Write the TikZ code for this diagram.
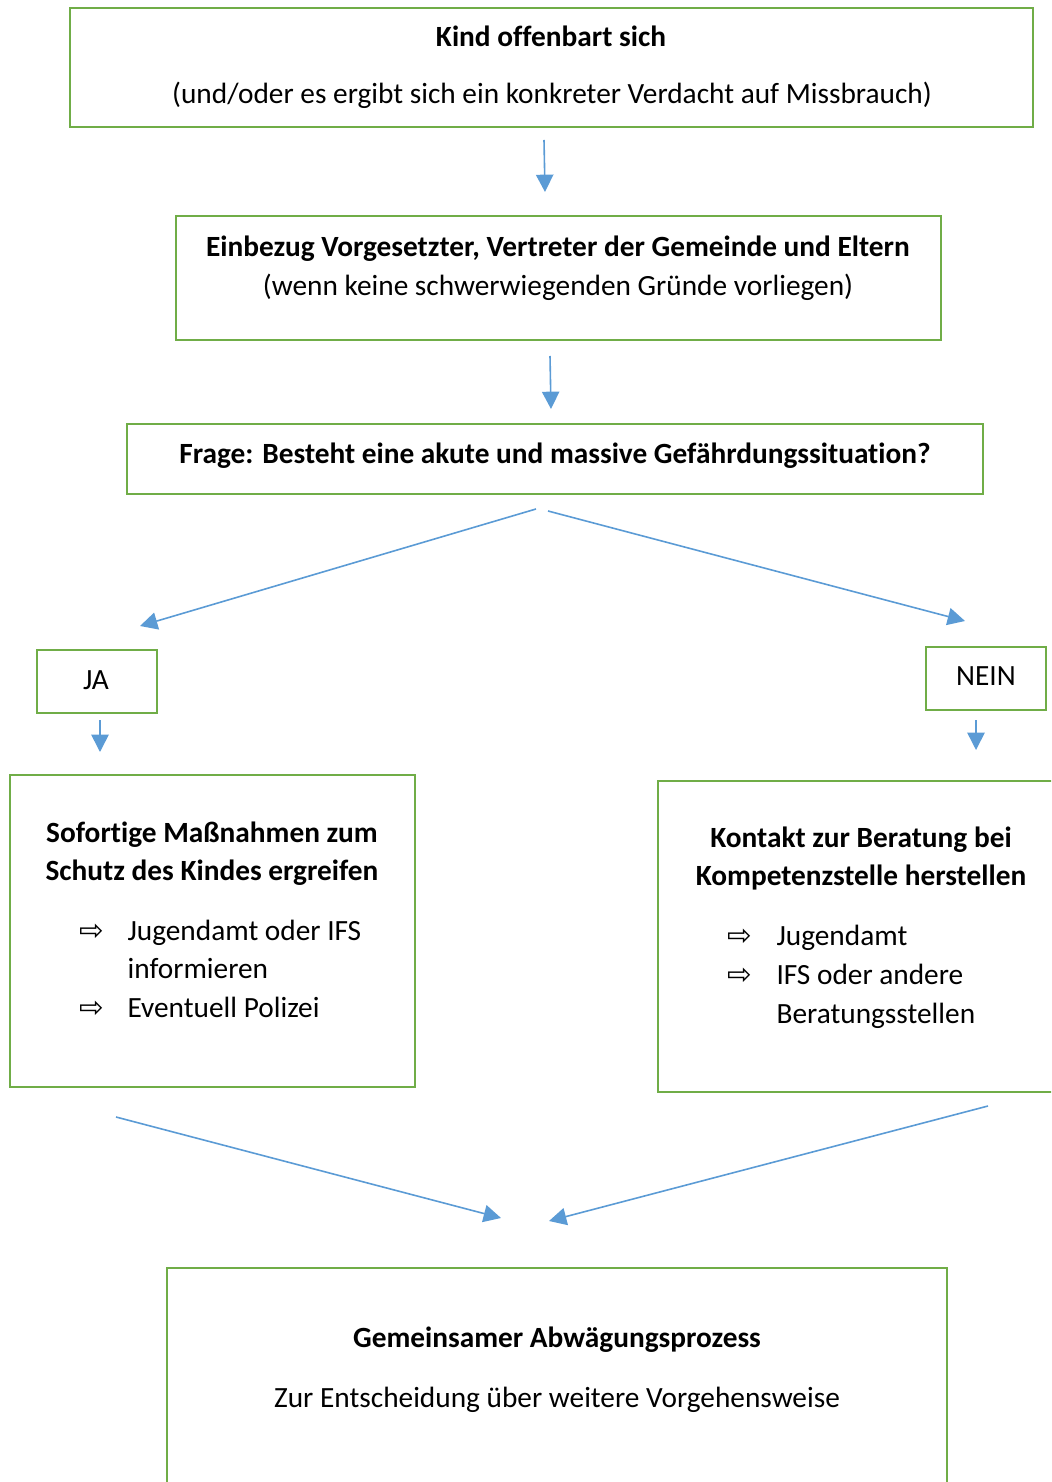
\documentclass[tikz,border=0pt]{standalone}
\usepackage{fontspec}
\setmainfont{Carlito}[RawFeature={-liga;-clig;-calt;-dlig}]
\newfontfamily\symfont{DejaVu Sans}
\usetikzlibrary{arrows.meta}
\definecolor{boxgreen}{RGB}{112,173,71}
\definecolor{flowblue}{RGB}{91,155,213}
\newcommand{\px}{0.375pt}
\newcommand{\pfeil}{{\symfont\fontsize{11}{12}\selectfont ⇨}}

\begin{document}
\begin{tikzpicture}[x=0.375pt,y=-0.375pt,
  box/.style={draw=boxgreen,line width=1.1pt,inner sep=0pt},
  flow/.style={draw=flowblue,line width=0.6pt,-{Triangle[length=6.5pt,width=6.5pt]}},
  txt/.style={anchor=base,inner sep=0pt,font=\fontsize{11}{14}\selectfont},
  head/.style={txt,font=\fontsize{11}{14}\selectfont\bfseries},
  item/.style={txt,anchor=base west}]
\path[use as bounding box,clip] (0,0) rectangle (1051,1482);

% boxes
\node [box,minimum width=963*\px,minimum height=119*\px] (kind) at (551.5,67.5) {};
\node [box,minimum width=765*\px,minimum height=124*\px] (einbezug) at (558.5,278) {};
\node [box,minimum width=856*\px,minimum height=70*\px] (frage) at (555,459) {};
\node [box,minimum width=120*\px,minimum height=63*\px] (ja) at (97,681.5) {};
\node [box,minimum width=120*\px,minimum height=63*\px] (nein) at (986,678.5) {};
\node [box,minimum width=405*\px,minimum height=312*\px] (sofort) at (212.5,931) {};
\node [box,minimum width=402*\px,minimum height=311*\px] (kontakt) at (859,936.5) {};
\node [box,minimum width=780*\px,minimum height=260*\px] (abwaeg) at (557,1398) {};

% texts
\node [head] (t1) at (551,47) {Kind offenbart sich};
\node [txt] (t2) at (552,104) {(und/oder es ergibt sich ein konkreter Verdacht auf Missbrauch)};
\node [head] (t3) at (558,257) {Einbezug Vorgesetzter, Vertreter der Gemeinde und Eltern};
\node [txt] (t4) at (558,296) {(wenn keine schwerwiegenden Gründe vorliegen)};
\node [head] (t5) at (555,464) {Frage: Besteht eine akute und massive Gefährdungssituation?};
\node [txt] (t6) at (96,689) {JA};
\node [txt] (t7) at (986,685) {NEIN};

\node [head] (s1) at (212,842) {Sofortige Maßnahmen zum};
\node [head] (s2) at (212,880) {Schutz des Kindes ergreifen};
\node [txt] (s3p) at (92,940) {\pfeil};
\node [item] (s3) at (127,940) {Jugendamt oder IFS};
\node [item] (s4) at (127,978) {informieren};
\node [txt] (s5p) at (92,1017) {\pfeil};
\node [item] (s5) at (127,1017) {Eventuell Polizei};

\node [head] (k1) at (861,847) {Kontakt zur Beratung bei};
\node [head] (k2) at (861,885) {Kompetenzstelle herstellen};
\node [txt] (k3p) at (740,945) {\pfeil};
\node [item] (k3) at (776,945) {Jugendamt};
\node [txt] (k4p) at (740,984) {\pfeil};
\node [item] (k4) at (776,984) {IFS oder andere};
\node [item] (k5) at (776,1023) {Beratungsstellen};

\node [head] (g1) at (557,1347) {Gemeinsamer Abwägungsprozess};
\node [txt] (g2) at (557,1407) {Zur Entscheidung über weitere Vorgehensweise};

% arrow ends
\coordinate (a1s) at (544,140);  \coordinate (a1e) at (545,192);
\coordinate (a2s) at (550,356);  \coordinate (a2e) at (551,409);
\coordinate (a3s) at (536,509);  \coordinate (a3e) at (140,626);
\coordinate (a4s) at (548,511);  \coordinate (a4e) at (965,621);
\coordinate (a5s) at (100,720);  \coordinate (a5e) at (100,752);
\coordinate (a6s) at (976,720);  \coordinate (a6e) at (976,750);
\coordinate (a7s) at (116,1117); \coordinate (a7e) at (501,1218);
\coordinate (a8s) at (988,1106); \coordinate (a8e) at (549,1221);

\draw [flow] (a1s) -- (a1e);
\draw [flow] (a2s) -- (a2e);
\draw [flow] (a3s) -- (a3e);
\draw [flow] (a4s) -- (a4e);
\draw [flow] (a5s) -- (a5e);
\draw [flow] (a6s) -- (a6e);
\draw [flow] (a7s) -- (a7e);
\draw [flow] (a8s) -- (a8e);
\end{tikzpicture}
\end{document}
